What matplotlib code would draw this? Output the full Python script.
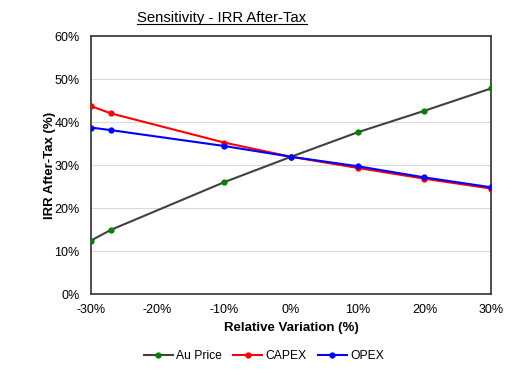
import matplotlib
matplotlib.use("Agg")
import matplotlib.pyplot as plt
from matplotlib.ticker import FuncFormatter, MultipleLocator
from matplotlib.lines import Line2D

plt.rcParams['font.family'] = ['Liberation Sans', 'DejaVu Sans']
plt.rcParams['axes.unicode_minus'] = False

variation = [-30, -27, -10, 0, 10, 20, 30]
au_price = [12.5, 15.0, 26.1, 32.0, 37.7, 42.7, 47.9]
capex = [43.8, 42.1, 35.3, 32.0, 29.4, 26.9, 24.6]
opex = [38.8, 38.2, 34.5, 32.0, 29.8, 27.2, 24.9]

fig = plt.figure(figsize=(5.22, 3.75), dpi=100)
ax = fig.add_axes([0.174, 0.215, 0.767, 0.688])

ax.plot(variation, au_price, color='#404040', lw=1.5, marker='o', ms=3.5,
        mfc='#008000', mec='#008000', label='Au Price', zorder=3)
ax.plot(variation, capex, color='#ff0000', lw=1.5, marker='o', ms=3.5,
        mfc='#ff0000', mec='#ff0000', label='CAPEX', zorder=3)
ax.plot(variation, opex, color='#0000ff', lw=1.5, marker='o', ms=3.5,
        mfc='#0000ff', mec='#0000ff', label='OPEX', zorder=4)

pct = FuncFormatter(lambda v, p: f"{int(round(v))}%".replace('\u2212', '-'))
ax.set_xlim(-30, 30)
ax.set_ylim(0, 60)
ax.xaxis.set_major_locator(MultipleLocator(10))
ax.yaxis.set_major_locator(MultipleLocator(10))
ax.xaxis.set_major_formatter(pct)
ax.yaxis.set_major_formatter(pct)
ax.grid(axis='y', color='#d9d9d9', lw=0.8)
ax.set_axisbelow(True)
ax.tick_params(length=0, labelsize=9)
ax.tick_params(axis='y', pad=8)
ax.tick_params(axis='x', pad=7)
for s in ax.spines.values():
    s.set_color('#404040')
    s.set_linewidth(1.3)

ax.set_xlabel('Relative Variation (%)', fontsize=9.5, fontweight='bold', labelpad=4)
ax.set_ylabel('IRR After-Tax (%)', fontsize=9.5, fontweight='bold', labelpad=-1)

t = fig.text(222/522, 1 - 18/375, 'Sensitivity - IRR After-Tax', fontsize=10.7,
             ha='center', va='center')
fig.canvas.draw()
bb = t.get_window_extent().transformed(fig.transFigure.inverted())
fig.add_artist(Line2D([bb.x0, bb.x1], [bb.y0 + 0.002, bb.y0 + 0.002],
                      transform=fig.transFigure, color='black', lw=0.8))

fig.legend(loc='center', bbox_to_anchor=(264/522, 1 - 356/375), ncol=3,
           frameon=False, fontsize=8.7, handlelength=2.4, columnspacing=0.9,
           handletextpad=0.3)

fig.savefig('out.png', dpi=100)
